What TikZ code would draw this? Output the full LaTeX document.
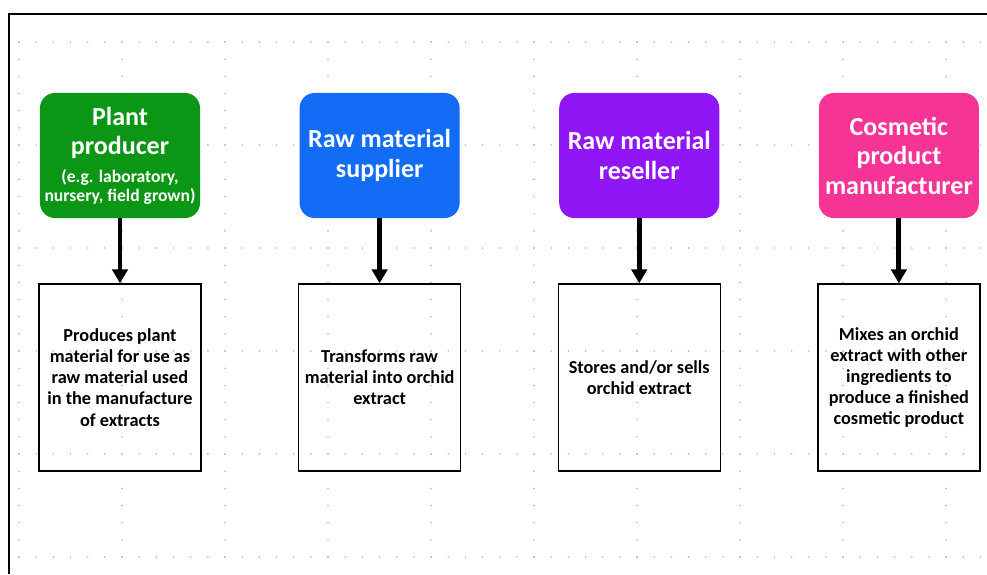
\documentclass[tikz,border=0pt]{standalone}
\usepackage{fontspec}
\setmainfont{Carlito}
\usepackage{tikz}
\usetikzlibrary{positioning}
\usetikzlibrary{arrows.meta}

\definecolor{plantgreen}{RGB}{12,150,22}
\definecolor{supplyblue}{RGB}{18,108,245}
\definecolor{resellpurple}{RGB}{145,22,245}
\definecolor{cosmpink}{RGB}{245,52,150}

\tikzstyle{role} = [rectangle, draw=none, text=white, font=\bfseries\fontsize{18.5}{21}\selectfont,
    align=center, rounded corners=0.375cm, minimum width=4cm, minimum height=3.125cm, inner sep=1pt]
\tikzstyle{task} = [rectangle, draw, line width=0.9pt, font=\bfseries\fontsize{13}{15}\selectfont,
    align=center, minimum width=4.05cm, minimum height=4.675cm, inner sep=1pt]
\tikzstyle{line} = [draw, line width=3.5pt, -{Triangle[width=11pt, length=10pt]}]
\tikzstyle{griddot} = [fill=gray!55, draw=none]

\begin{document}
\begin{tikzpicture}[x=0.025cm, y=-0.025cm, node distance = 1.625cm and 2.475cm]
  \useasboundingbox (0,0) rectangle (987,574);

  % dotted page grid
  \foreach \gx in {0,...,9}
    \foreach \gy in {0,...,30}
      \fill [griddot] (19+103*\gx, 42+17.17*\gy) circle (0.9);
  \foreach \gy in {0,...,5}
    \foreach \gx in {0,...,56}
      \fill [griddot] (19+17.17*\gx, 42+103*\gy) circle (0.9);

  % page edge
  \draw [line width=1.4pt] (9,574) -- (9,14) -- (987,14);

  \node [role, fill=plantgreen] (plant) at (120,155.5)
    {Plant\\producer\\[-1pt]{\fontsize{12.5}{12.5}\selectfont (e.g. laboratory,}\\[-8pt]{\fontsize{12.5}{12.5}\selectfont nursery, field grown)}};
  \node [role, fill=supplyblue, right=of plant] (supplier) {Raw material\\supplier};
  \node [role, fill=resellpurple, right=of supplier] (reseller) {Raw material\\reseller};
  \node [role, fill=cosmpink, right=of reseller] (maker) {Cosmetic\\product\\manufacturer};

  \node [task, below=of plant] (plantjob)
    {Produces plant\\material for use as\\raw material used\\in the manufacture\\of extracts};
  \node [task, below=of supplier] (supplierjob)
    {Transforms raw\\material into orchid\\extract};
  \node [task, below=of reseller] (resellerjob)
    {Stores and/or sells\\orchid extract};
  \node [task, below=of maker] (makerjob)
    {Mixes an orchid\\extract with other\\ingredients to\\produce a finished\\cosmetic product};

  \path [line] (plant) -- (plantjob);
  \path [line] (supplier) -- (supplierjob);
  \path [line] (reseller) -- (resellerjob);
  \path [line] (maker) -- (makerjob);

\end{tikzpicture}
\end{document}
